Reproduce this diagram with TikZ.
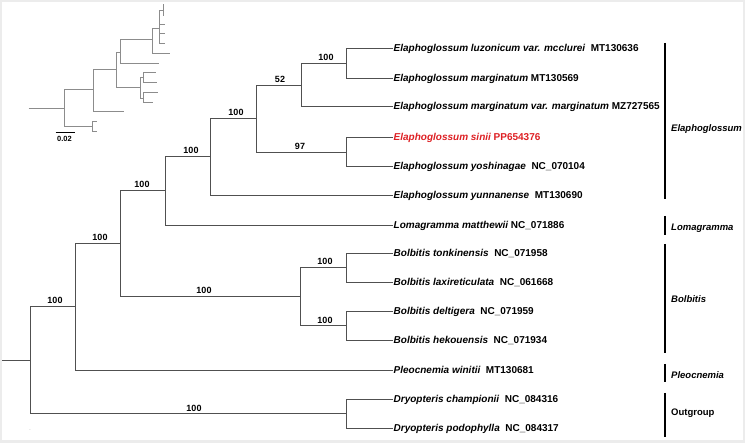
\documentclass[tikz,border=0pt]{standalone}
\usepackage{fontspec}
\setmainfont{Liberation Sans}
\definecolor{branch}{RGB}{80,80,80}
\definecolor{sinired}{RGB}{222,32,36}
\definecolor{framegray}{RGB}{236,236,236}
\definecolor{insetgray}{RGB}{140,140,140}
\newcommand\mybracket[3]{\draw[br] (#2) -| (#1) |- (#3);}
\begin{document}
\begin{tikzpicture}[x=1pt,y=-1pt,
  br/.style={draw=branch,line width=1.25pt},
  bar/.style={draw=black,line width=2.4pt},
  inset/.style={draw=insetgray,line width=0.9pt},
  leaf/.style={anchor=base west,inner sep=0pt,font=\fontsize{10}{12}\selectfont\bfseries},
  supp/.style={anchor=south,inner sep=0pt,font=\fontsize{9}{11}\selectfont\bfseries},
  clade/.style={anchor=base west,inner sep=0pt,font=\fontsize{9.5}{11}\selectfont\bfseries\itshape}]
\useasboundingbox (0,0) rectangle (745,443);
\fill[framegray] (0,0) rectangle (745,443);
\fill[white] (2,2) rectangle (742.5,440.5);

% ---- inset overview tree ----
\begin{scope}[shift={(0.5,0.5)}]
\draw[inset] (28,108) -- (64,108);
\draw[inset] (93,89) -- (64,89) -- (64,126) -- (92,126);
\draw[inset] (96,121) -- (92,121) -- (92,131) -- (96,131);
\draw[inset] (116,69) -- (93,69) -- (93,111) -- (123,111);
\draw[inset] (120,52) -- (116,52) -- (116,87) -- (140,87);
\draw[inset] (143,77) -- (140,77) -- (140,98) -- (143,98);
\draw[inset] (155,72) -- (143,72) -- (143,82) -- (156,82);
\draw[inset] (157,92) -- (143,92) -- (143,102) -- (152,102);
\draw[inset] (152,39) -- (120,39) -- (120,63) -- (158,63);
\draw[inset] (159,28) -- (152,28) -- (152,53) -- (169,53);
\draw[inset] (163,10) -- (159,10) -- (159,43) -- (164,43);
\draw[inset] (159,24) -- (164,24);
\draw[inset] (159,33) -- (164,33);
\draw[inset] (163,4) -- (163,16);
\draw[black,line width=1pt] (55,132) -- (74,132);
\end{scope}
\node[inner sep=0pt,font=\fontsize{7.5}{9}\selectfont\bfseries] (scale) at (64.5,139) {0.02};

% ---- leaves ----
\foreach \i/\y in {1/48.5,2/78.5,3/106.5,4/137.5,5/166.5,6/195.5,7/225.5,8/253.5,9/282.5,10/311.5,11/340.5,12/370.5,13/399.5,14/428.5}
  \coordinate (L\i) at (392.5,\y);

\node[leaf] (t1) at (393.5,52) {\itshape Elaphoglossum luzonicum var. mcclurei\upshape\ \ MT130636};
\node[leaf] (t2) at (393.5,82) {\itshape Elaphoglossum marginatum\upshape\ MT130569};
\node[leaf] (t3) at (393.5,110) {\itshape Elaphoglossum marginatum var. marginatum\upshape\ MZ727565};
\node[leaf,text=sinired] (t4) at (393.5,141) {\itshape Elaphoglossum sinii\upshape\ PP654376};
\node[leaf] (t5) at (393.5,170) {\itshape Elaphoglossum yoshinagae\upshape\ \ NC\_070104};
\node[leaf] (t6) at (393.5,199) {\itshape Elaphoglossum yunnanense\upshape\ \ MT130690};
\node[leaf] (t7) at (393.5,229) {\itshape Lomagramma matthewii\upshape\ NC\_071886};
\node[leaf] (t8) at (393.5,257) {\itshape Bolbitis tonkinensis\upshape\ \ NC\_071958};
\node[leaf] (t9) at (393.5,286) {\itshape Bolbitis laxireticulata\upshape\ \ NC\_061668};
\node[leaf] (t10) at (393.5,315) {\itshape Bolbitis deltigera\upshape\ \ NC\_071959};
\node[leaf] (t11) at (393.5,344) {\itshape Bolbitis hekouensis\upshape\ \ NC\_071934};
\node[leaf] (t12) at (393.5,374) {\itshape Pleocnemia winitii\upshape\ \ MT130681};
\node[leaf] (t13) at (393.5,403) {\itshape Dryopteris championii\upshape\ \ NC\_084316};
\node[leaf] (t14) at (393.5,432) {\itshape Dryopteris podophylla\upshape\ \ NC\_084317};

% ---- internal nodes ----
\coordinate (nA) at (346.5,63.5);
\coordinate (nB) at (301.5,85.5);
\coordinate (nC) at (346.5,152.5);
\coordinate (nD) at (256.5,118.5);
\coordinate (nE) at (210.5,156.5);
\coordinate (nF) at (165.5,190.5);
\coordinate (nG1) at (346.5,267.5);
\coordinate (nG2) at (346.5,325.5);
\coordinate (nG) at (300.5,296.5);
\coordinate (nH) at (120.5,243.5);
\coordinate (nI) at (75.5,306.5);
\coordinate (nJ) at (346.5,413.5);
\coordinate (nR) at (30.5,360.5);
\coordinate (root) at (2,360.5);

\mybracket{nA}{L1}{L2}
\mybracket{nB}{nA}{L3}
\mybracket{nC}{L4}{L5}
\mybracket{nD}{nB}{nC}
\mybracket{nE}{nD}{L6}
\mybracket{nF}{nE}{L7}
\mybracket{nG1}{L8}{L9}
\mybracket{nG2}{L10}{L11}
\mybracket{nG}{nG1}{nG2}
\mybracket{nH}{nF}{nG}
\mybracket{nI}{nH}{L12}
\mybracket{nJ}{L13}{L14}
\mybracket{nR}{nI}{nJ}
\draw[br] (root) -- (nR);

% ---- support values ----
\node[supp] (sA) at (326,61) {100};
\node[supp] (sB) at (280,83) {52};
\node[supp] (sC) at (300,150) {97};
\node[supp] (sD) at (236,116) {100};
\node[supp] (sE) at (191,154) {100};
\node[supp] (sF) at (142,188) {100};
\node[supp] (sG1) at (325,265) {100};
\node[supp] (sG2) at (325,323.5) {100};
\node[supp] (sG) at (204,294) {100};
\node[supp] (sH) at (100,241) {100};
\node[supp] (sI) at (55,304) {100};
\node[supp] (sJ) at (194,411.5) {100};

% ---- clade bars ----
\draw[bar] (665,43) -- (665,199);
\draw[bar] (665,216) -- (665,235);
\draw[bar] (665,244) -- (665,353);
\draw[bar] (665,364) -- (665,382);
\draw[bar] (665,393) -- (665,437);
\node[clade] (cE) at (671,131.5) {Elaphoglossum};
\node[clade] (cL) at (671,230.5) {Lomagramma};
\node[clade] (cB) at (671,302.5) {Bolbitis};
\node[clade] (cP) at (671,378.5) {Pleocnemia};
\node[clade,font=\fontsize{9.5}{11}\selectfont\bfseries] (cO) at (671,415.5) {Outgroup};

\node[inner sep=0pt,text=insetgray,font=\fontsize{5}{5}\selectfont] (dot) at (30,430) {.};
\end{tikzpicture}
\end{document}
